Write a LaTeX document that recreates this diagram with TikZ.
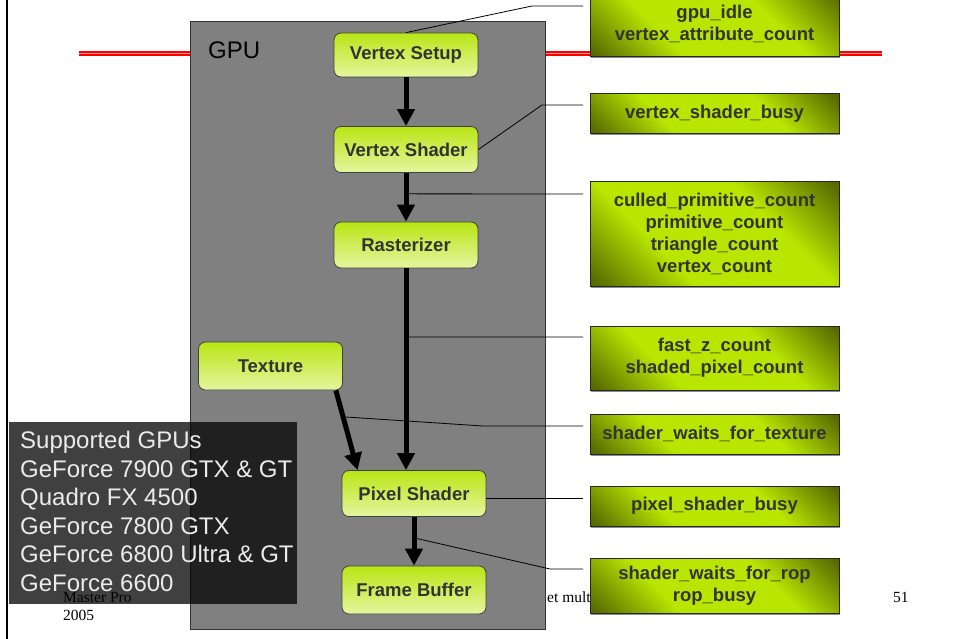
\documentclass[tikz,border=0pt]{standalone}
\usepackage{fontspec}
\setmainfont{Liberation Sans}
\newfontfamily\seriffont{Liberation Serif}
\usetikzlibrary{arrows.meta,shadows,calc}

\definecolor{cbright}{RGB}{184,230,0}
\definecolor{cdark}{RGB}{88,106,0}
\definecolor{gtop}{RGB}{184,230,20}
\definecolor{gbot}{RGB}{230,245,160}
\definecolor{txtgray}{RGB}{51,51,51}
\definecolor{gpugray}{RGB}{128,128,128}
\definecolor{redline}{RGB}{255,0,0}
\definecolor{pinkline}{RGB}{255,150,150}
\pgfdeclareverticalshading{cntshade}{100bp}{color(0bp)=(cdark); color(16bp)=(cdark); color(36bp)=(cbright); color(64bp)=(cbright); color(84bp)=(cdark); color(100bp)=(cdark)}

\begin{document}
\begin{tikzpicture}[x=1pt,y=-1pt,
  stage/.style={draw=black!75, line width=0.8pt, rounded corners=7pt, top color=gtop, bottom color=gbot, minimum width=144pt, minimum height=46pt, inner sep=0pt, text=txtgray, font=\bfseries\fontsize{18.5}{22}\selectfont},
  counter/.style={draw=black!85, line width=1pt, shade, shading=cntshade, shading angle=-45, minimum width=249pt, inner sep=0pt, align=center, text=txtgray, font=\bfseries\fontsize{18.5}{22}\selectfont, drop shadow={shadow xshift=1.2pt, shadow yshift=-1.5pt, fill=black!45, opacity=1}},
  bigarrow/.style={line width=5pt, -{Triangle[width=17pt,length=17pt]}},
  leader/.style={line width=0.8pt, black},
  foot/.style={font=\seriffont\fontsize{15.5}{18}\selectfont, inner sep=0pt, anchor=base west}
]
\useasboundingbox (0,0) rectangle (953,639);
\clip (0,0) rectangle (953,639);

% red rule
\draw[redline, line width=4.5pt] (79,53.5) -- (882,53.5);
\draw[pinkline, line width=1.2pt] (79,53.5) -- (882,53.5);
% left border
\draw[black, line width=2.5pt] (7,-1) -- (7,640);

% footer behind
\node[foot] (etmult) at (547,602) {et mult};
\node[foot] (pagenum) at (893,602) {51};

% GPU box
\node[draw=black!80, line width=1pt, fill=gpugray, minimum width=355pt, minimum height=608pt, anchor=north west, inner sep=0pt] (gpu) at (190,21) {};
\node[anchor=base west, inner sep=0pt, font=\fontsize{24}{28}\selectfont] (gpulabel) at (208,58.5) {GPU};

% stages
\node[stage, minimum height=44pt] (vsetup) at (406,55) {Vertex Setup};
\node[stage] (vshader) at (406,149.5) {Vertex Shader};
\node[stage] (raster) at (406,245) {Rasterizer};
\node[stage, minimum height=48pt] (texture) at (270.5,366) {Texture};
\node[stage] (pshader) at (414,493.5) {Pixel Shader};
\node[stage, minimum height=48pt] (fbuffer) at (414,590) {Frame Buffer};

% leader lines
\coordinate (k1) at (583,6);
\coordinate (k2) at (583,105);
\coordinate (k3) at (583,194);
\coordinate (k4) at (583,337);
\coordinate (k5) at (583,426);
\coordinate (k6) at (583,498);
\coordinate (k7) at (583,569);
\coordinate (a3) at ($(vshader.south)!0.43!(raster.north)$);
\coordinate (a4) at ($(raster.south)!0.34!(raster.south |- pshader.north)$);
\coordinate (a5) at (346,417);
\coordinate (a7) at ($(pshader.south)!0.43!(fbuffer.north)$);
\draw[leader] (vsetup.north) -- (532,6) -- (k1);
\draw[leader] (vshader.east) -- (542,105) -- (k2);
\draw[leader] (a3) -- (k3);
\draw[leader] (a4) -- (k4);
\draw[leader] (a5) -- (483,426) -- (k5);
\draw[leader] ($(pshader.east)+(0,4.5)$) -- (k6);
\draw[leader] (a7) -- (550,569) -- (k7);

% flow arrows
\draw[bigarrow] (vsetup.south) -- (vshader.north);
\draw[bigarrow] (vshader.south) -- (raster.north);
\draw[bigarrow] (raster.south) -- (raster.south |- pshader.north);
\draw[bigarrow] ($(texture.south east)+(-7,0)$) -- ($(pshader.north west)+(16,0)$);
\draw[bigarrow] (pshader.south) -- (fbuffer.north);

% counters
\node[counter, minimum height=67pt] (c1) at (714.5,23.5) {gpu\_idle\\vertex\_attribute\_count};
\node[counter, minimum height=40pt] (c2) at (714.5,114) {vertex\_shader\_busy};
\node[counter, minimum height=104pt] (c3) at (714.5,234) {culled\_primitive\_count\\primitive\_count\\triangle\_count\\vertex\_count};
\node[counter, minimum height=64pt] (c4) at (714.5,358) {fast\_z\_count\\shaded\_pixel\_count};
\node[counter, minimum height=40pt] (c5) at (714.5,434) {shader\_waits\_for\_texture};
\node[counter, minimum height=40pt] (c6) at (714.5,506) {pixel\_shader\_busy};
\node[counter, minimum height=55pt] (c7) at (714.5,585.5) {shader\_waits\_for\_rop\\rop\_busy};

% footer left
\node[foot] (master) at (63,602) {Master Pro};
\node[foot] (year) at (63,620) {2005};

% supported GPUs overlay
\fill[black, opacity=0.75] (9,422) rectangle (297,604);
\node[anchor=north west, inner sep=0pt, align=left, text=black!8, font=\fontsize{24}{28.6}\selectfont] (gpus) at (20,431) {Supported GPUs\\GeForce 7900 GTX \& GT\\Quadro FX 4500\\GeForce 7800 GTX\\GeForce 6800 Ultra \& GT\\GeForce 6600};
\end{tikzpicture}
\end{document}
